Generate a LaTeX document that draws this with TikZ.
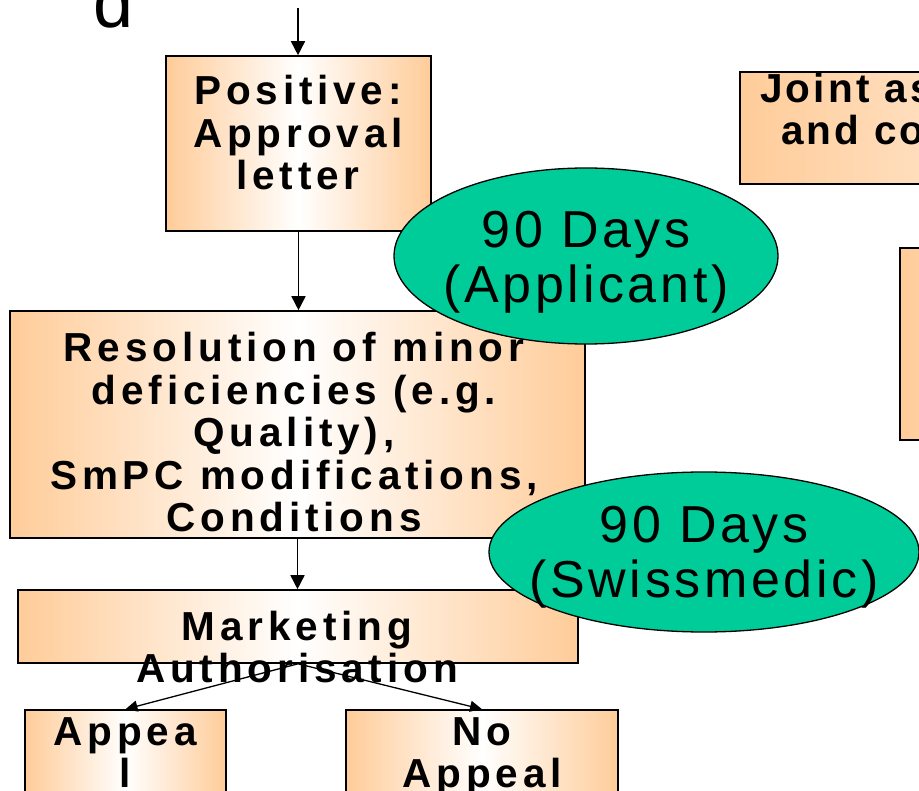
\documentclass[tikz,border=0pt]{standalone}
\usepackage{fontspec}
\setmainfont{Liberation Sans}
\newfontfamily\boxfont[LetterSpace=12]{Liberation Sans}
\newfontfamily\tightboxfont[LetterSpace=8]{Liberation Sans}
\newfontfamily\daysfont[LetterSpace=7]{Liberation Sans}
\usetikzlibrary{shapes.geometric,arrows.meta}

\definecolor{peach}{HTML}{FFCC99}
\definecolor{daysgreen}{HTML}{00CC99}

% lines of a label, aligned on the baseline of the first line
\newcommand\linesc[1]{\begin{tabular}[t]{@{}c@{}}#1\end{tabular}}
\newcommand\linesl[1]{\begin{tabular}[t]{@{}l@{}}#1\end{tabular}}

\tikzset{
  x=1pt, y=-1pt,
  stepbox/.style={draw=black, line width=1.6pt, inner sep=0pt,
    left color=peach, right color=peach, middle color=white},
  boxtext/.style={font=\boxfont\bfseries\fontsize{40.5}{42.5}\selectfont,
    anchor=base, inner sep=0pt},
  days/.style={ellipse, draw=black, line width=1.3pt, fill=daysgreen, inner sep=0pt},
  daystext/.style={font=\daysfont\fontsize{52}{54.5}\selectfont,
    anchor=base, inner sep=0pt},
  flow/.style={line width=1.6pt, -{Triangle[length=14pt,width=14pt]}},
  split/.style={line width=1.3pt, -{Triangle[length=12pt,width=11pt]}},
}

\begin{document}
\begin{tikzpicture}
\useasboundingbox (0,0) rectangle (919,791);
\clip (0,0) rectangle (919,791);

% title fragment
\node[font=\fontsize{72}{72}\selectfont, anchor=base, inner sep=0pt] (title) at (114,28) {d};

% process boxes
\node[stepbox, minimum width=265pt, minimum height=175pt] (pos) at (298.5,143.5) {};
\node[stepbox, minimum width=575pt, minimum height=227pt] (res) at (297.5,424.5) {};
\node[stepbox, minimum width=560pt, minimum height=73pt] (mkt) at (298,626.5) {};
\node[stepbox, minimum width=201pt, minimum height=120pt] (appeal) at (125.5,770) {};
\node[stepbox, minimum width=272pt, minimum height=120pt] (noappeal) at (482,770) {};
\node[stepbox, middle color=peach!55!white, right color=peach!30!white,
      minimum width=360pt, minimum height=112pt] (joint) at (920,128) {};
\node[stepbox, middle color=peach!70!white, right color=peach!40!white,
      minimum width=200pt, minimum height=192pt] (side) at (1000,344) {};

% box labels
\node[boxtext] (postext) at (298,105) {\linesc{Positive:\\Approval\\letter}};
\node[boxtext] (restext) at (294,362) {\linesc{Resolution of minor\\deficiencies (e.g.\\Quality),\\SmPC modifications,\\Conditions}};
\node[boxtext] (mkttext) at (297,640) {\linesc{Marketing\\Authorisation}};
\node[boxtext] (appealtext) at (125,745) {\linesc{Appea\\l}};
\node[boxtext] (noappealtext) at (482,745) {\linesc{No\\Appeal}};
\node[boxtext, font=\tightboxfont\bfseries\fontsize{40.5}{39}\selectfont, anchor=base west]
  (jointtext) at (760,103) {\linesl{Joint as\\\hspace*{21pt}and co}};

% time limits
\node[days, minimum width=384pt, minimum height=176pt] (applicant) at (586,256) {};
\node[daystext] (applicanttext) at (586,248) {\linesc{90 Days\\(Applicant)}};
\node[days, minimum width=430pt, minimum height=160pt] (swissmedic) at (704,552) {};
\node[daystext] (swissmedictext) at (704,543) {\linesc{90 Days\\(Swissmedic)}};

% connectors
\coordinate (entry) at (298,8);
\draw[flow] (entry) -- (entry |- pos.north);
\draw[flow] (pos.south) -- (pos.south |- res.north);
\draw[flow] (res.south) -- (res.south |- mkt.north);
\draw[split] (mkt.south) -- (appeal.north);
\draw[split] (mkt.south) -- (noappeal.north);
\end{tikzpicture}
\end{document}
